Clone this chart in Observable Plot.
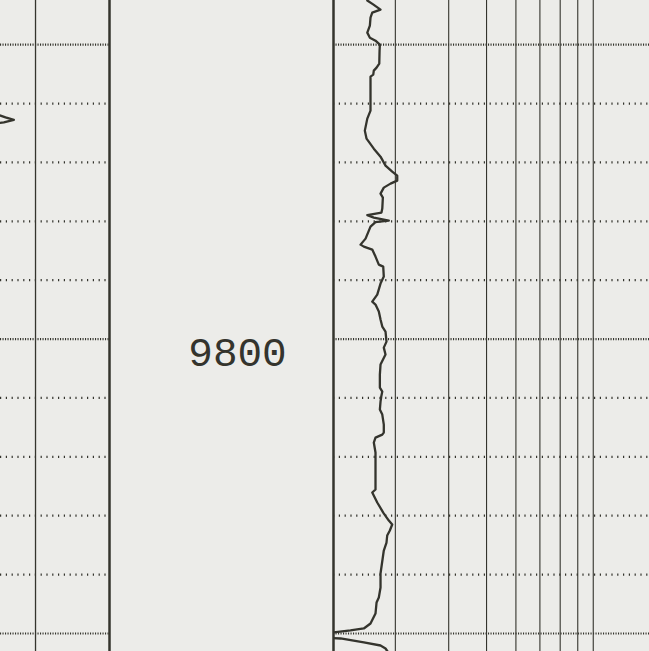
<!DOCTYPE html>
<html><head><meta charset="utf-8">
<script src="https://cdn.jsdelivr.net/npm/d3@7"></script>
<script src="https://cdn.jsdelivr.net/npm/@observablehq/plot@0.6"></script>
<style>
html,body{margin:0;padding:0;background:#ecece9;}
#wrap{position:relative;width:649px;height:651px;overflow:hidden;background:#ecece9;}
#wrap svg{position:absolute;top:0;background:transparent;}
</style></head><body><div id="wrap"></div>
<script>
// Depth axis (feet)
const depthDomain = [9742.5, 9853.06];
const minorDepths = [9760, 9770, 9780, 9790, 9810, 9820, 9830, 9840];
const majorDepths = [9750, 9800, 9850];
const depthLabels = [9800];

// Left track (linear)
const leftDomain = [39.5, 150];
const leftGrid = [75];
const leftCurveDepth = [9761.5, 9762.05, 9762.34, 9762.78, 9763.19, 9763.5];
const leftCurveValue = [30, 39.5, 44.6, 53.0, 42.9, 30];

// Right track (logarithmic)
const rightDomain = [1.25, 13.8];
const rightGrid = [2, 3, 4, 5, 6, 7, 8, 9];
const curveDepth = [9742.5,9743.2,9744.06,9744.57,9745.42,9746.77,9747.96,9748.81,9749.32,9750.0,9751.02,9753.23,9753.9,9754.41,9755.09,9755.43,9761.2,9762.56,9764.6,9765.96,9767.66,9769.02,9770.54,9771.56,9772.24,9773.09,9773.6,9774.28,9775.3,9775.98,9777.84,9778.52,9778.95,9779.37,9779.88,9780.14,9780.9,9782.94,9783.96,9784.3,9784.8,9785.99,9787.35,9787.69,9789.39,9790.58,9792.45,9793.63,9794.14,9795.33,9796.69,9797.88,9798.73,9800.43,9801.45,9802.63,9804.33,9806.03,9808.24,9808.92,9809.76,9810.61,9811.97,9812.82,9814.52,9815.88,9816.22,9816.73,9817.57,9819.27,9825.55,9826.06,9827.76,9829.46,9830.82,9831.5,9832.51,9833.36,9834.55,9835.91,9839.81,9842.19,9843.89,9844.74,9846.61,9848.3,9849.15,9849.49,9849.83,9850.17,9850.68,9850.85,9851.53,9852.04,9852.55,9853.06];
const curveValue = [1.616,1.694,1.787,1.678,1.656,1.648,1.616,1.648,1.720,1.778,1.774,1.770,1.734,1.698,1.691,1.656,1.656,1.616,1.586,1.607,1.698,1.787,1.856,1.953,2.029,2.029,1.928,1.832,1.787,1.819,1.811,1.800,1.616,1.698,1.903,1.720,1.656,1.595,1.535,1.574,1.678,1.720,1.764,1.824,1.832,1.787,1.743,1.678,1.720,1.764,1.787,1.811,1.856,1.870,1.832,1.856,1.787,1.778,1.778,1.811,1.797,1.787,1.778,1.811,1.832,1.832,1.811,1.720,1.698,1.720,1.720,1.678,1.743,1.824,1.903,1.953,1.918,1.880,1.870,1.832,1.787,1.787,1.764,1.734,1.720,1.656,1.574,1.422,1.253,1.1,1.1,1.319,1.574,1.787,1.856,1.885];

const ink = "#34342d";
const H = 651;
const yOpt = {domain: depthDomain, reverse: true, axis: null};
const hRules = () => [
  Plot.ruleY(minorDepths, {stroke: ink, strokeWidth: 2.2, strokeDasharray: "1.2,4.6"}),
  Plot.ruleY(majorDepths, {stroke: ink, strokeWidth: 2.2, strokeDasharray: "1.1,1.4"})
];
const wrap = document.getElementById("wrap");

const leftCurve = leftCurveDepth.map((d, i) => ({d, v: leftCurveValue[i]}));
const left = Plot.plot({
  width: 111, height: H, marginLeft: 0, marginRight: 2, marginTop: 0, marginBottom: 0,
  style: {background: "transparent"},
  x: {domain: leftDomain, axis: null}, y: yOpt,
  marks: [
    ...hRules(),
    Plot.ruleX(leftGrid, {stroke: ink, strokeWidth: 1.3}),
    Plot.ruleX([leftDomain[1]], {stroke: ink, strokeWidth: 2.5}),
    Plot.line(leftCurve, {x: "v", y: "d", stroke: ink, strokeWidth: 2.3, clip: true})
  ]
});
left.style.left = "0px";
wrap.appendChild(left);

const mid = Plot.plot({
  width: 224, height: H, margin: 0,
  style: {background: "transparent"},
  x: {domain: [0, 1], axis: null}, y: yOpt,
  marks: [
    Plot.text(depthLabels, {y: d => d, text: d => String(d), frameAnchor: "middle", dx: 16, dy: 14,
      lineAnchor: "middle", fontSize: 41, fontFamily: "Liberation Mono, DejaVu Sans Mono, monospace", fill: ink})
  ]
});
mid.style.left = "109px";
wrap.appendChild(mid);

const curve = curveDepth.map((d, i) => ({d, v: curveValue[i]}));
const right = Plot.plot({
  width: 318, height: H, marginLeft: 2, marginRight: 0, marginTop: 0, marginBottom: 0,
  style: {background: "transparent"},
  x: {type: "log", domain: rightDomain, axis: null}, y: yOpt,
  marks: [
    ...hRules(),
    Plot.ruleX(rightGrid, {stroke: ink, strokeWidth: 1.1}),
    Plot.line(curve, {x: "v", y: "d", stroke: ink, strokeWidth: 2.3, clip: true}),
    Plot.ruleX([rightDomain[0]], {stroke: ink, strokeWidth: 2.5})
  ]
});
right.style.left = "331px";
wrap.appendChild(right);
</script></body></html>
